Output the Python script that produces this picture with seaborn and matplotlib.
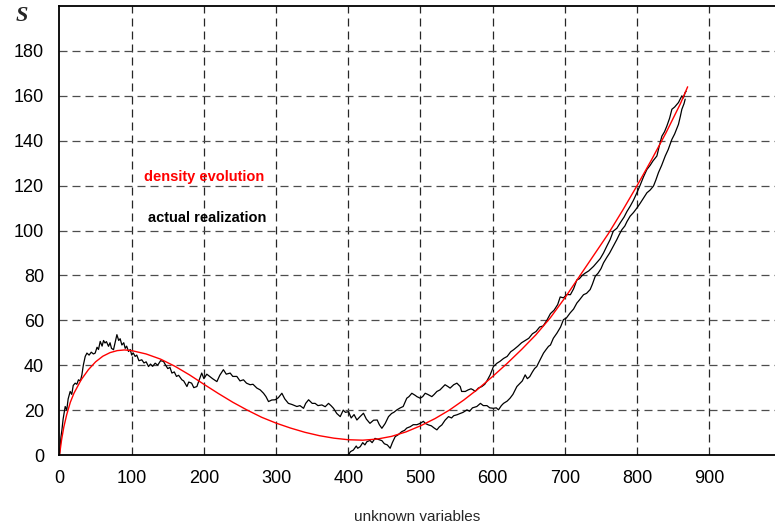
import matplotlib
matplotlib.use("Agg")
import matplotlib.pyplot as plt
import seaborn as sns
import pandas as pd

# Smooth density evolution curve
density_x = [0, 3, 6, 10, 15, 20, 30, 40, 50, 60, 70, 80, 90, 100, 120, 140, 160, 180,
             200, 220, 240, 260, 280, 300, 320, 340, 360, 380, 400, 420, 440, 460, 480,
             500, 520, 540, 560, 580, 600, 620, 640, 660, 680, 700, 720, 740, 760, 780,
             800, 820, 840, 860, 870]
density_y = [0, 7, 12.5, 18, 23.5, 27.5, 33.5, 38, 41.5, 44, 45.6, 46.5, 46.8, 46.5, 45,
             42.7, 39.5, 35.7, 31.5, 27.4, 23.5, 20, 16.8, 14.2, 12, 10.1, 8.6, 7.5, 6.8,
             6.6, 7.1, 8.3, 10.3, 13, 16.2, 20, 24.5, 29.5, 35, 40.8, 47, 53.6, 61.2, 70,
             79.5, 89, 98.5, 109, 120, 131.5, 143.5, 156.5, 164]

# First realization (from 0)
real1_x = [0, 2, 3.3, 5, 7.9, 10, 12, 14.8, 17, 19, 21.7, 24, 26.3, 29, 31, 33, 35.6, 38,
           41, 44, 47, 49.4, 52, 54, 56.4, 59, 61, 63, 65, 67.9, 70, 72, 74.8, 77, 79.5,
           82, 84, 86.4, 89, 91, 93, 95.6, 98, 100, 102, 104.8, 107, 110, 114, 117, 120,
           123.3, 126, 129, 132.5, 136, 140, 144, 147, 150, 153, 155.7, 159, 162, 165,
           169.5, 172, 176.5, 179, 183, 186, 190.3, 193, 197, 200, 204, 208, 212, 218,
           222, 227, 231, 236.4, 240, 245.6, 250, 254.8, 259, 264, 268, 273.4, 278,
           282.6, 286, 289.5, 294, 298.8, 303, 308, 312, 317, 322, 328.8, 333, 338, 341,
           345, 350, 354, 358, 363.4, 368, 372.6, 376, 379.5, 384, 388.8, 393, 396,
           400.3, 404, 408, 411.9, 416, 421, 425, 430, 435, 440, 443, 446.5, 451, 455.7,
           460, 463, 467.3, 472, 476, 481, 484, 488, 493, 495, 499.6, 503, 506.5, 510,
           515.7, 519, 522.7, 527, 530, 534, 538, 541, 546, 550.4, 555, 557, 562, 566,
           570, 573, 575.8, 580, 585, 589, 592, 596.5, 601, 606, 610, 615, 620, 625, 629,
           635, 640, 645, 650, 655, 660, 665, 670, 675, 680, 685, 690, 693.5, 698, 703,
           707.6, 712, 716.6, 720, 724, 728, 733, 739.6, 745, 749, 753.5, 758, 762.7,
           767, 772, 776.6, 782, 786, 790.4, 795, 799.7, 804, 809, 813.6, 818, 822,
           827.4, 831, 834.3, 838, 841.3, 845, 848.2, 852, 857.3, 862, 864, 866.6, 868]
real1_y = [0, 8, 11, 16, 21.6, 20, 25, 28.3, 27, 31, 32, 31.5, 33.5, 33, 35.7, 40, 43.9,
           45.4, 44.5, 45.8, 45, 45.4, 48, 47, 50.6, 48.5, 51, 49.9, 50.5, 48.4, 50, 47.5,
           46.9, 50, 53.6, 51, 51.8, 49, 50, 47.5, 48.5, 46.1, 47, 44.5, 45.5, 43.9, 44.5,
           42, 42.4, 41, 41.5, 39.4, 40.5, 39.5, 40.9, 40, 42, 41.7, 40, 38.5, 39, 36.5,
           37, 35, 35.5, 33.5, 33, 30.5, 32.5, 32, 30, 30.5, 33, 36.5, 34, 36, 35, 34,
           32.7, 35.5, 38, 36, 36.5, 35, 35, 33, 33.5, 32, 31.3, 31.5, 29.8, 29, 27.5, 26,
           23.8, 24.5, 24.6, 25.5, 27.5, 25, 23, 22.5, 21.6, 22, 20.8, 23, 24.6, 23, 23,
           22, 22.3, 21.5, 23, 22, 20.8, 18.5, 17.1, 20, 19, 19.3, 16.5, 18, 15.6, 17,
           18.6, 16, 14.1, 15.5, 15.6, 13.5, 11.9, 14, 17.1, 18.5, 19, 20.1, 21, 21.6,
           25.3, 26, 27.5, 26.5, 26, 25.3, 26, 27.5, 27, 26, 27, 28.3, 29, 30, 31.3, 30.5,
           29.8, 31.3, 32, 30.5, 28.3, 28.3, 29, 29.5, 29, 28.3, 29.8, 30.5, 31.5, 33,
           35.7, 39.4, 40.9, 41.7, 43, 43.9, 46, 46.9, 48.5, 50, 51, 52, 54, 55, 57, 57.5,
           60, 63, 64.5, 67, 70.4, 70, 71.5, 71.4, 74, 78, 78.5, 80, 81, 82, 84, 86, 87.5,
           90, 93, 96, 99.7, 101, 103.4, 106, 108.5, 110.8, 113.5, 116.8, 120, 124, 127.2,
           129, 131, 133.2, 138, 142, 144, 146.6, 150, 154, 155, 157, 160, 159, 161.5, 162]

# Second realization (from 400)
real2_x = [400, 403, 407, 411, 413, 416.5, 420, 423, 425.7, 430, 433, 437, 441, 446.5, 450,
           454, 458, 461, 465, 469, 474, 478, 481, 485.7, 490, 495, 499.6, 504, 507, 511,
           515, 519, 522.7, 526, 529.6, 534, 538.8, 543, 546, 550.4, 555, 559, 564.3, 568,
           572, 578, 583, 587, 592, 596, 601, 605, 608, 612, 615, 620, 624, 628, 633.5,
           638, 641, 645, 648, 651.3, 655, 658, 661, 665, 670.4, 674, 677.3, 680, 684,
           689, 694, 698, 702, 707.3, 712, 716.6, 720, 725.8, 730, 735, 738, 742, 746,
           750, 753.5, 758, 762, 767, 772, 775, 779, 783, 786, 790.4, 795, 799.7, 804,
           809, 813.6, 818, 822.7, 826, 829.6, 834, 839, 843, 848.2, 852, 857.3, 860,
           862, 865, 866.6]
real2_y = [0, 1.5, 2.2, 4, 3, 3.7, 5.5, 4.5, 5.9, 6.5, 5.5, 7.4, 7, 6.4, 5, 4.5, 3, 5.5,
           8.2, 9, 10.4, 11, 12, 12.6, 13.5, 13.5, 14.1, 15, 14, 13.4, 13, 12, 11.2, 12.5,
           13.4, 15.5, 17.1, 16.5, 17.5, 17.9, 18.5, 19, 20.1, 19.5, 21, 21.6, 23, 22, 22,
           21, 20.8, 21, 20.1, 22, 23, 24, 25.3, 27, 30.5, 32, 33, 35.7, 34, 34.9, 37,
           38.5, 39.4, 42, 45.4, 47, 48.4, 49, 52, 54.3, 57, 60.3, 61, 63.3, 65, 67.7, 69,
           71.4, 72, 73.7, 76, 79.6, 81, 83, 85.6, 88, 90, 93, 96, 98, 100.4, 102, 104,
           106.4, 108, 110, 112, 114.5, 116.8, 118, 119.8, 122.5, 125.8, 129, 133.2, 136,
           140.6, 143, 147.3, 151, 154, 156.5, 158.5]

x_ticks = [0, 100, 200, 300, 400, 500, 600, 700, 800, 900]
y_ticks = [0, 20, 40, 60, 80, 100, 120, 140, 160, 180]

sns.set_style("white")
plt.rcParams["font.family"] = ["Liberation Sans", "DejaVu Sans"]

fig = plt.figure(figsize=(7.75, 5.25), dpi=100)
ax = fig.add_axes([59.5 / 775, 70 / 525, 1 - 59.5 / 775, 449 / 525])

# dashed grid
ax.set_axisbelow(True)
for v in x_ticks[1:]:
    ax.axvline(v, color="0.15", lw=0.9, ls=(0, (6.4, 4)), zorder=0)
for v in y_ticks[1:]:
    ax.axhline(v, color="0.3", lw=0.9, ls=(0, (6.4, 4)), zorder=0)

d1 = pd.DataFrame({"x": real1_x, "y": real1_y})
d2 = pd.DataFrame({"x": real2_x, "y": real2_y})
dd = pd.DataFrame({"x": density_x, "y": density_y})

sns.lineplot(data=d1, x="x", y="y", ax=ax, color="black", lw=0.9, sort=False, estimator=None)
sns.lineplot(data=d2, x="x", y="y", ax=ax, color="black", lw=0.9, sort=False, estimator=None)
sns.lineplot(data=dd, x="x", y="y", ax=ax, color="#ff0000", lw=1.0, sort=False, estimator=None)

ax.set_xlim(0, 991)
ax.set_ylim(0, 200)
ax.set_xticks(x_ticks)
ax.set_yticks(y_ticks)
ax.tick_params(axis="both", labelsize=13, colors="black", length=5, width=1)
ax.tick_params(axis="x", direction="inout", pad=8)
ax.tick_params(axis="y", direction="out", pad=6)

for side in ("left", "bottom", "top"):
    ax.spines[side].set_color("black")
    ax.spines[side].set_linewidth(1.3)
ax.spines["right"].set_visible(False)

ax.set_xlabel("unknown variables", fontsize=11, labelpad=17)
ax.set_ylabel("")

ax.text(117, 124, "density evolution", color="#ff0000", fontsize=10.5,
        fontweight="bold", va="center", ha="left")
ax.text(122, 105.5, "actual realization", color="black", fontsize=10.5,
        fontweight="bold", va="center", ha="left")

fig.text(22 / 775, 1 - 16 / 525, "S", fontsize=16, fontstyle="italic",
         fontweight="bold", family="Liberation Serif", ha="center", va="center")

fig.savefig("out.png", dpi=100)
